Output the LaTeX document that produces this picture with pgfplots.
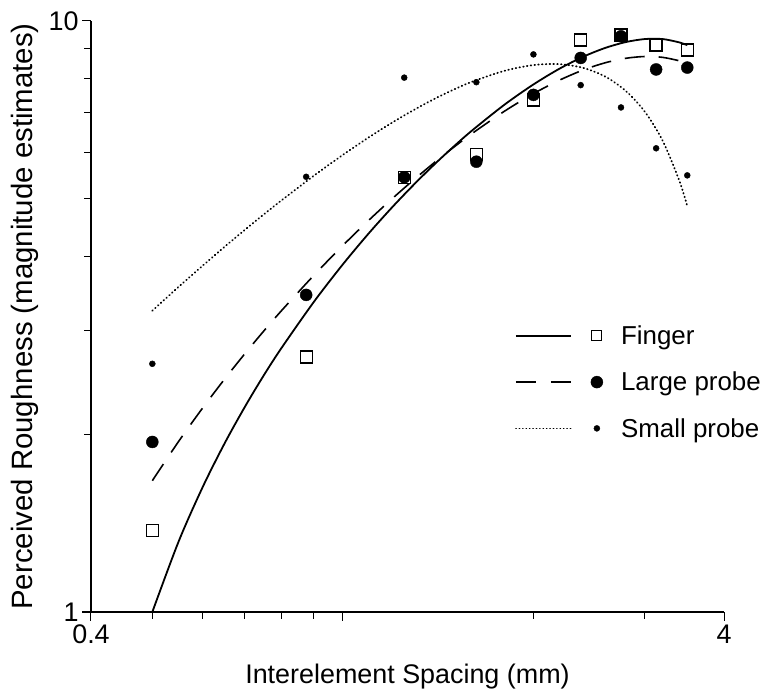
\documentclass[border=0pt]{standalone}
\usepackage{fontspec}
\setmainfont{Liberation Sans}
\usepackage{pgfplots}
\pgfplotsset{compat=1.18}
\begin{document}
\begin{tikzpicture}[x=1bp,y=1bp]
\useasboundingbox (-91,-80) rectangle (674,612);
\begin{axis}[
  at={(0,0)}, anchor=south west,
  scale only axis, width=633bp, height=591bp,
  xmode=log, ymode=log,
  xmin=0.4, xmax=4, ymin=1, ymax=10,
  axis x line*=bottom, axis y line*=left,
  axis line style={-, line width=1.2bp, black},
  tick align=outside,
  major tick length=9bp, minor tick length=7bp,
  every tick/.style={black, line width=1bp},
  xtick={0.4,1,4}, xticklabels={\mbox{0.4},,\mbox{4}},
  minor xtick={0.5,0.6,0.7,0.8,0.9,2,3},
  ytick={1,10}, yticklabels={\mbox{1},\mbox{10}},
  minor ytick={2,3,4,5,6,7,8,9},
  tick label style={font=\fontsize{27}{27}\selectfont},
  xlabel={Interelement Spacing (mm)},
  ylabel={Perceived Roughness (magnitude estimates)},
  xlabel style={font=\fontsize{27}{27}\selectfont, at={(axis description cs:0.5,-0.110)}, anchor=center},
  ylabel style={font=\fontsize{29.5}{29.5}\selectfont, at={(axis description cs:-0.1043,0.5)}, anchor=center},
  clip=false,
  legend cell align=left,
  legend style={draw=none, fill=none, inner sep=0pt, outer sep=0pt,
    at={(axis description cs:0.6698,0.4844)}, anchor=north west,
    font=\fontsize{26}{26}\selectfont, row sep=26bp, column sep=18bp,
    nodes={inner sep=0pt}},
]
% Finger fitted curve (solid)
\addplot[black, line width=1.8bp, smooth, forget plot] coordinates {
(0.5,1.000) (0.55,1.315) (0.6,1.624) (0.65,1.927) (0.7,2.223) (0.75,2.514)
(0.8,2.798) (0.9,3.349) (1.0,3.876) (1.1,4.379) (1.2,4.857) (1.3,5.311)
(1.4,5.741) (1.5,6.146) (1.6,6.528) (1.8,7.218) (2.0,7.811) (2.2,8.307)
(2.4,8.706) (2.6,9.008) (2.8,9.213) (3.0,9.321) (3.2,9.320) (3.4,9.200)
(3.5,9.100)
};
% Large probe fitted curve (dashed)
\addplot[black, line width=1.6bp, dash pattern=on 20bp off 14bp, smooth, forget plot] coordinates {
(0.5,1.668) (0.55,1.943) (0.6,2.212) (0.65,2.476) (0.7,2.735) (0.75,2.988)
(0.8,3.236) (0.9,3.714) (1.0,4.171) (1.1,4.606) (1.2,5.019) (1.3,5.410)
(1.4,5.779) (1.5,6.127) (1.6,6.452) (1.8,7.037) (2.0,7.535) (2.2,7.944)
(2.4,8.267) (2.6,8.501) (2.8,8.648) (3.0,8.708) (3.2,8.679) (3.4,8.563)
(3.5,8.473)
};
% Small probe fitted curve (dotted)
\addplot[black, line width=1.8bp, line cap=round, dash pattern=on 0.6bp off 3.2bp, smooth, forget plot] coordinates {
(0.5,3.235) (0.55,3.549) (0.6,3.853) (0.65,4.147) (0.7,4.432) (0.75,4.707)
(0.8,4.972) (0.9,5.474) (1.0,5.936) (1.1,6.360) (1.2,6.744) (1.3,7.090)
(1.4,7.397) (1.5,7.665) (1.6,7.894) (1.8,8.236) (2.0,8.422) (2.2,8.452)
(2.4,8.327) (2.6,8.047) (2.8,7.610) (3.0,7.019) (3.2,6.272) (3.4,5.369)
(3.5,4.859)
};
% Finger data (open squares)
\addplot[only marks, mark=square, mark size=6bp, mark options={black, line width=1.3bp, fill=none}, forget plot] coordinates {
(0.5,1.373) (0.875,2.70) (1.25,5.44) (1.625,5.95) (2.0,7.35)
(2.375,9.29) (2.75,9.47) (3.125,9.11) (3.5,8.93)
};
% Large probe data (filled circles)
\addplot[only marks, mark=*, mark size=6bp, mark options={black, fill=black}, forget plot] coordinates {
(0.5,1.94) (0.875,3.44) (1.25,5.44) (1.625,5.78) (2.0,7.5)
(2.375,8.66) (2.75,9.42) (3.125,8.28) (3.5,8.34)
};
% Small probe data (small dots)
\addplot[only marks, mark=*, mark size=3bp, mark options={black, fill=black}, forget plot] coordinates {
(0.5,2.63) (0.875,5.45) (1.25,8.02) (1.625,7.88) (2.0,8.78)
(2.375,7.79) (2.75,7.14) (3.125,6.09) (3.5,5.48)
};
\addlegendimage{legend image code/.code={
  \draw[black, line width=1.8bp] (0bp,0bp) -- (55bp,0bp);
  \draw[black, line width=1.2bp] (76bp,-5bp) rectangle (86bp,5bp);}}
\addlegendentry{Finger}
\addlegendimage{legend image code/.code={
  \draw[black, line width=1.6bp, dash pattern=on 20bp off 15bp] (0bp,0bp) -- (55bp,0bp);
  \fill[black] (81bp,0bp) circle (6bp);}}
\addlegendentry{Large probe}
\addlegendimage{legend image code/.code={
  \draw[black, line width=1.3bp, line cap=round, dash pattern=on 0.4bp off 3bp] (0bp,0bp) -- (55bp,0bp);
  \fill[black] (81bp,0bp) circle (3bp);}}
\addlegendentry{Small probe}
\end{axis}
\end{tikzpicture}
\end{document}
